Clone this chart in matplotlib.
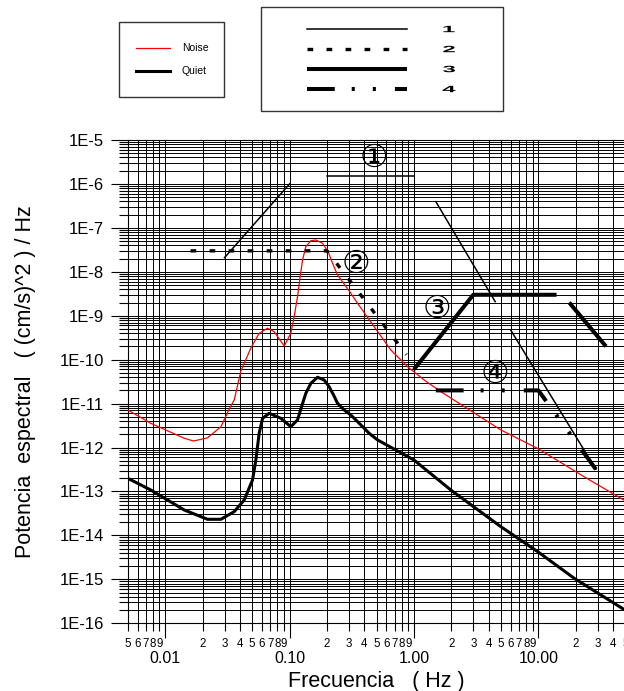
import numpy as np
import matplotlib
matplotlib.use("Agg")
import matplotlib.pyplot as plt
from matplotlib.ticker import LogLocator, FuncFormatter, NullFormatter
from matplotlib.lines import Line2D
from matplotlib.patches import Rectangle, PathPatch
from matplotlib.textpath import TextPath
from matplotlib.font_manager import FontProperties
from matplotlib.transforms import Affine2D, IdentityTransform

plt.rcParams['font.family'] = ['Liberation Sans', 'DejaVu Sans', 'Noto Sans CJK SC']
plt.rcParams['lines.scale_dashes'] = False

# ---------------- data ----------------
noise_f = [0.005, 0.00767, 0.01422, 0.0169, 0.0219, 0.0281, 0.0325, 0.0359, 0.0406,
           0.0489, 0.0570, 0.0665, 0.0752, 0.0906, 0.1024, 0.1089, 0.1159, 0.1217,
           0.1272, 0.1352, 0.1483, 0.1627, 0.1842, 0.2043, 0.2216, 0.2431, 0.311,
           0.352, 0.4786, 0.652, 0.888, 1.208, 1.645, 5.0, 10.04, 23.3, 49.6]
noise_p = [7.2e-12, 3.56e-12, 1.63e-12, 1.41e-12, 1.66e-12, 2.99e-12, 7.2e-12, 1.21e-11,
           5.53e-11, 1.85e-10, 3.99e-10, 5.19e-10, 4.34e-10, 2.05e-10, 3.99e-10, 9.5e-10,
           2.72e-9, 7.74e-9, 1.86e-8, 3.73e-8, 5.1e-8, 5.3e-8, 4.46e-8, 2.87e-8, 1.56e-8,
           8.47e-9, 3.24e-9, 1.92e-9, 5.64e-10, 1.66e-10, 6.93e-11, 3.45e-11, 1.87e-11,
           2.51e-12, 9.3e-13, 2.17e-13, 6.18e-14]

quiet_f = [0.005, 0.00767, 0.01422, 0.0219, 0.0281, 0.0359, 0.0432, 0.0504, 0.0536,
           0.0570, 0.0607, 0.0686, 0.0851, 0.1024, 0.1159, 0.1249, 0.1352, 0.1483, 0.168,
           0.1897, 0.2080, 0.2258, 0.243, 0.2748, 0.311, 0.3742, 0.4365, 0.510, 1.0,
           1.98, 5.0, 10.04, 19.4, 49.6]
quiet_p = [2.0e-13, 1.08e-13, 3.8e-14, 2.33e-14, 2.33e-14, 3.48e-14, 6.41e-14, 1.83e-13,
           5.21e-13, 2.11e-12, 4.63e-12, 6.03e-12, 4.63e-12, 2.99e-12, 4.25e-12, 8.51e-12,
           1.72e-11, 2.9e-11, 3.98e-11, 3.45e-11, 2.43e-11, 1.57e-11, 1.02e-11, 7.16e-12,
           5.51e-12, 3.27e-12, 2.11e-12, 1.49e-12, 5.21e-13, 1.08e-13, 1.58e-14, 4.14e-15,
           1.06e-15, 2.01e-16]

# model 1 (thin solid), four segments
line1a_f = [0.03, 0.1];  line1a_p = [2.1e-8, 1.0e-6]
line1b_f = [0.2, 1.0];   line1b_p = [1.54e-6, 1.54e-6]
line1c_f = [1.5, 4.5];   line1c_p = [3.95e-7, 2.09e-9]
line1d_f = [6.0, 29.0];  line1d_p = [4.7e-10, 3.2e-13]
# model 2 (dotted)
line2_f = [0.016, 0.2, 0.87]; line2_p = [3.0e-8, 3.0e-8, 1.3e-10]
# model 3 (thick solid)
line3a_f = [1.0, 3.0, 14.0]; line3a_p = [6.0e-11, 3.0e-9, 3.0e-9]
line3b_f = [17.7, 35.0];     line3b_p = [2.0e-9, 2.0e-10]
# model 4 (dash-dot-dot)
line4_f = [1.5, 10.0, 29.0]; line4_p = [2.0e-11, 2.0e-11, 3.2e-13]

marker_text = ['\u2460', '\u2461', '\u2462', '\u2463']
marker_f = [0.476, 0.341, 1.53, 4.47]
marker_p = [3.9e-6, 1.5e-8, 1.43e-9, 4.73e-11]

legend1_labels = ['Noise', 'Quiet']
legend2_labels = ['1', '2', '3', '4']

# ---------------- styles ----------------
st_noise = dict(color='red', lw=0.9)
st_quiet = dict(color='black', lw=2.2)
st1 = dict(color='black', lw=1.1)
st2 = dict(color='black', lw=2.4, ls=(0, (4.1, 9.6)), dash_capstyle='butt')
st3 = dict(color='black', lw=2.9, solid_capstyle='butt')
st4 = dict(color='black', lw=2.9, ls=(0, (20, 12.2, 2.2, 13, 2.2, 13.7)), dash_capstyle='butt')

W, H = 624, 691
fig = plt.figure(figsize=(W / 100, H / 100), dpi=100)
ax = fig.add_axes([127.7 / W, 67.7 / H, 497.6 / W, 483.3 / H])
ax.set_xscale('log')
ax.set_yscale('log')
ax.set_xlim(0.005, 50)
ax.set_ylim(1e-16, 1e-5)

ax.plot(noise_f, noise_p, **st_noise, zorder=3)
ax.plot(quiet_f, quiet_p, **st_quiet, zorder=3, solid_joinstyle='round')
for fx, py in [(line1a_f, line1a_p), (line1b_f, line1b_p), (line1c_f, line1c_p), (line1d_f, line1d_p)]:
    ax.plot(fx, py, **st1, zorder=4)
ax.plot(line2_f, line2_p, **st2, zorder=4)
ax.plot(line3a_f, line3a_p, **st3, zorder=4)
ax.plot(line3b_f, line3b_p, **st3, zorder=4)
ax.plot(line4_f, line4_p, **st4, zorder=4)

for t, fx, py in zip(marker_text, marker_f, marker_p):
    ax.text(fx, py, t, fontsize=23, ha='center', va='center', zorder=5,
            family=['DejaVu Sans', 'Noto Sans CJK SC'])

# grid & ticks
ax.set_axisbelow(True)
ax.xaxis.set_major_locator(LogLocator(base=10, numticks=20))
ax.xaxis.set_minor_locator(LogLocator(base=10, subs=np.arange(2, 10), numticks=40))
ax.yaxis.set_major_locator(LogLocator(base=10, numticks=20))
ax.yaxis.set_minor_locator(LogLocator(base=10, subs=np.arange(2, 10), numticks=40))
ax.xaxis.set_major_formatter(FuncFormatter(lambda v, p: f"{v:.2f}"))
ax.xaxis.set_minor_formatter(FuncFormatter(
    lambda v, p: str(int(round(v / 10 ** np.floor(np.log10(v) + 1e-9))))))
ax.yaxis.set_major_formatter(FuncFormatter(lambda v, p: f"1E{int(round(np.log10(v)))}"))
ax.yaxis.set_minor_formatter(NullFormatter())
ax.grid(which='both', color='black', lw=0.7)
ax.tick_params(axis='x', which='major', length=10.6, width=0.8, pad=9, labelsize=11.5)
ax.tick_params(axis='x', which='minor', length=6, width=0.8, pad=4.5, labelsize=8.3)
ax.tick_params(axis='y', which='major', length=12, width=0.8, pad=5, labelsize=12)
ax.tick_params(axis='y', which='minor', length=6.3, width=0.8)
for s in ax.spines.values():
    s.set_linewidth(0.8)

ax.set_xlabel('Frecuencia   ( Hz )', fontsize=15.5, labelpad=4)
ax.set_ylabel('Potencia  espectral   ( (cm/s)^2 ) / Hz', fontsize=15.5, labelpad=17)

# ---------------- legends (figure coords) ----------------
tf = fig.transFigure
fig.add_artist(Rectangle((119 / W, 1 - 97 / H), 105 / W, 75 / H, transform=tf,
                         fill=False, edgecolor='#333333', lw=1.0))
for (st, lab, yy) in [(st_noise, legend1_labels[0], 48), (st_quiet, legend1_labels[1], 71)]:
    fig.add_artist(Line2D([136 / W, 170 / W], [1 - yy / H] * 2, transform=tf, **st))
    fig.text(182 / W, 1 - yy / H, lab, fontsize=7.5, va='center', ha='left')

fig.add_artist(Rectangle((261 / W, 1 - 111 / H), 242 / W, 104 / H, transform=tf,
                         fill=False, edgecolor='#333333', lw=1.0))
fp = FontProperties(family='Liberation Sans', weight='bold')
for (st, lab, yy) in zip([st1, st2, st3, st4], legend2_labels, [29, 49, 69, 89]):
    fig.add_artist(Line2D([307 / W, 407 / W], [1 - yy / H] * 2, transform=tf, **st))
    tp = TextPath((0, 0), lab, size=10, prop=fp)
    bb = tp.get_extents()
    sx, sy = 2.4, 0.92
    tr = (Affine2D().translate(-(bb.x0 + bb.x1) / 2, -(bb.y0 + bb.y1) / 2)
          .scale(sx, sy).translate(449, H - yy))
    fig.add_artist(PathPatch(tr.transform_path(tp), transform=IdentityTransform(),
                             facecolor='black', edgecolor='none'))

fig.savefig('out.png', dpi=100)
